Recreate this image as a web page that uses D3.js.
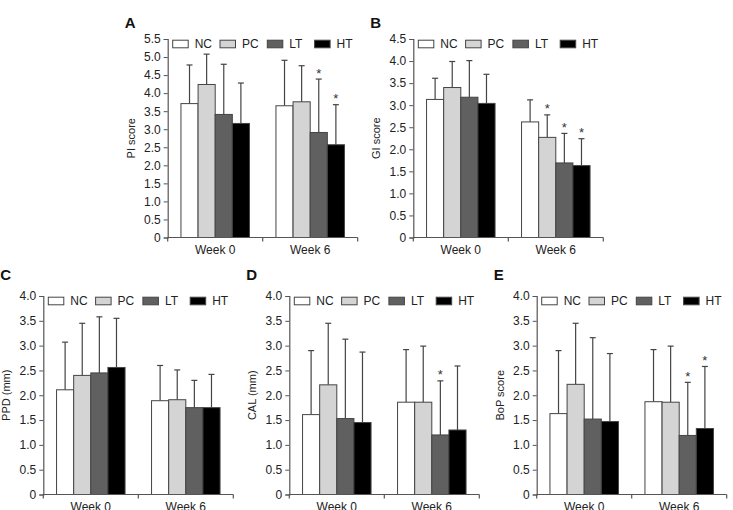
<!DOCTYPE html>
<html><head><meta charset="utf-8">
<script src="https://cdn.jsdelivr.net/npm/d3@7"></script>
<style>
html,body{margin:0;padding:0;background:#fff;}
svg{display:block;font-family:Arial,"Liberation Sans",sans-serif;}
</style></head>
<body>
<svg id="chart" width="733" height="510"></svg>
<script>
// ---- data ----
const categories = ["Week 0", "Week 6"];
const groups = ["NC", "PC", "LT", "HT"];
const groupColors = ["#ffffff", "#d4d4d4", "#606060", "#000000"];

const piMean = [[3.71, 4.24, 3.41, 3.16], [3.65, 3.76, 2.91, 2.57]];
const piSD   = [[1.07, 0.84, 1.39, 1.12], [1.26, 1.00, 1.48, 1.11]];
const piStar = [[0, 0, 0, 0], [0, 0, 1, 1]];

const giMean = [[3.13, 3.40, 3.18, 3.04], [2.62, 2.27, 1.69, 1.63]];
const giSD   = [[0.48, 0.59, 0.83, 0.66], [0.50, 0.51, 0.67, 0.61]];
const giStar = [[0, 0, 0, 0], [0, 1, 1, 1]];

const ppdMean = [[2.11, 2.40, 2.45, 2.56], [1.89, 1.91, 1.75, 1.75]];
const ppdSD   = [[0.96, 1.05, 1.13, 0.99], [0.71, 0.60, 0.55, 0.67]];
const ppdStar = [[0, 0, 0, 0], [0, 0, 0, 0]];

const calMean = [[1.61, 2.21, 1.53, 1.45], [1.86, 1.86, 1.20, 1.30]];
const calSD   = [[1.29, 1.24, 1.60, 1.42], [1.06, 1.13, 1.09, 1.29]];
const calStar = [[0, 0, 0, 0], [0, 0, 1, 0]];

const bopMean = [[1.63, 2.22, 1.52, 1.47], [1.87, 1.86, 1.19, 1.33]];
const bopSD   = [[1.27, 1.23, 1.64, 1.37], [1.05, 1.13, 1.07, 1.25]];
const bopStar = [[0, 0, 0, 0], [0, 0, 1, 1]];

const piTicks = [0, 0.5, 1.0, 1.5, 2.0, 2.5, 3.0, 3.5, 4.0, 4.5, 5.0, 5.5];
const giTicks = [0, 0.5, 1.0, 1.5, 2.0, 2.5, 3.0, 3.5, 4.0, 4.5];
const fourTicks = [0, 0.5, 1.0, 1.5, 2.0, 2.5, 3.0, 3.5, 4.0];

const panels = [
  {letter: "A", label: "PI score", mean: piMean, sd: piSD, star: piStar, ticks: piTicks, max: 5.5,
   x: 167.7, y: 39, letterDy: -11},
  {letter: "B", label: "GI score", mean: giMean, sd: giSD, star: giStar, ticks: giTicks, max: 4.5,
   x: 413.3, y: 39, letterDy: -11},
  {letter: "C", label: "PPD (mm)", mean: ppdMean, sd: ppdSD, star: ppdStar, ticks: fourTicks, max: 4.0,
   x: 43.3, y: 296, letterDy: -16},
  {letter: "D", label: "CAL (mm)", mean: calMean, sd: calSD, star: calStar, ticks: fourTicks, max: 4.0,
   x: 289.3, y: 296, letterDy: -16},
  {letter: "E", label: "BoP score", mean: bopMean, sd: bopSD, star: bopStar, ticks: fourTicks, max: 4.0,
   x: 536.7, y: 296, letterDy: -16}
];

const W = 190, H = 198.5, groupW = 68.5;
const axisColor = "#555", textColor = "#222";
const svg = d3.select("#chart");

panels.forEach(p => {
  const g = svg.append("g").attr("transform", `translate(${p.x},${p.y})`);
  const y = d3.scaleLinear().domain([0, p.max]).range([H, 0]);
  const x0 = d3.scaleBand().domain(categories).range([0, W]).padding(0);
  const bw = x0.bandwidth();
  const x1 = d3.scaleBand().domain(groups).range([(bw - groupW) / 2, (bw + groupW) / 2]).padding(0);

  const rows = [];
  categories.forEach((c, ci) => groups.forEach((s, si) => rows.push({
    c, s, si, mean: p.mean[ci][si], sd: p.sd[ci][si], star: p.star[ci][si]
  })));

  // error bars (drawn behind bars)
  const eg = g.append("g");
  rows.forEach(r => {
    const cx = x0(r.c) + x1(r.s) + x1.bandwidth() / 2;
    const top = y(r.mean + r.sd);
    eg.append("line").attr("x1", cx).attr("x2", cx).attr("y1", y(r.mean)).attr("y2", top)
      .attr("stroke", "#444").attr("stroke-width", 1.2);
    eg.append("line").attr("x1", cx - 3).attr("x2", cx + 3).attr("y1", top).attr("y2", top)
      .attr("stroke", "#444").attr("stroke-width", 1.2);
    if (r.star) {
      eg.append("text").attr("x", cx).attr("y", top - 1.5).attr("text-anchor", "middle")
        .attr("font-size", 13).attr("fill", "#333").text("*");
    }
  });

  g.append("g").selectAll("rect").data(rows).join("rect")
    .attr("x", d => x0(d.c) + x1(d.s))
    .attr("y", d => y(d.mean))
    .attr("width", x1.bandwidth())
    .attr("height", d => H - y(d.mean))
    .attr("fill", d => groupColors[d.si])
    .attr("stroke", "#444").attr("stroke-width", 1);

  // y axis
  const ya = g.append("g").call(d3.axisLeft(y).tickValues(p.ticks).tickSize(4).tickPadding(3)
    .tickFormat(v => v === 0 ? "0" : d3.format(".1f")(v)));
  ya.select(".domain").attr("stroke", axisColor).attr("stroke-width", 1.2);
  ya.selectAll(".tick line").attr("stroke", axisColor);
  ya.selectAll(".tick text").attr("fill", textColor).attr("font-size", 12).attr("font-family", "Arial, Liberation Sans, sans-serif");

  // x axis
  const xa = g.append("g").attr("transform", `translate(0,${H})`)
    .call(d3.axisBottom(x0).tickSize(0).tickPadding(7.5));
  xa.select(".domain").attr("stroke", axisColor).attr("stroke-width", 1.2).attr("d", `M0,0H${W}`);
  xa.selectAll(".tick text").attr("fill", textColor).attr("font-size", 12).attr("font-family", "Arial, Liberation Sans, sans-serif");
  const edges = [0].concat(categories.map(c => x0(c) + bw));
  xa.selectAll(".edge").data(edges).join("line").attr("class", "edge")
    .attr("x1", d => d).attr("x2", d => d).attr("y1", 0).attr("y2", 4)
    .attr("stroke", axisColor).attr("stroke-width", 1.2);

  // y label
  g.append("text").attr("transform", `translate(-33,${H / 2}) rotate(-90)`)
    .attr("text-anchor", "middle").attr("font-size", 11).attr("fill", textColor).text(p.label);

  // panel letter
  g.append("text").attr("x", -43).attr("y", p.letterDy).attr("font-size", 15).attr("font-weight", "bold")
    .attr("fill", "#111").text(p.letter);

  // legend
  const lg = g.append("g").attr("transform", "translate(5,5)");
  groups.forEach((s, i) => {
    const li = lg.append("g").attr("transform", `translate(${i * 47.3},0)`);
    li.append("rect").attr("x", 0).attr("y", -3.8).attr("width", 15.5).attr("height", 7.6)
      .attr("fill", groupColors[i]).attr("stroke", "#444").attr("stroke-width", 1);
    li.append("text").attr("x", 22).attr("y", 4.3).attr("font-size", 12).attr("fill", textColor).text(s);
  });
});
</script>
</body></html>
